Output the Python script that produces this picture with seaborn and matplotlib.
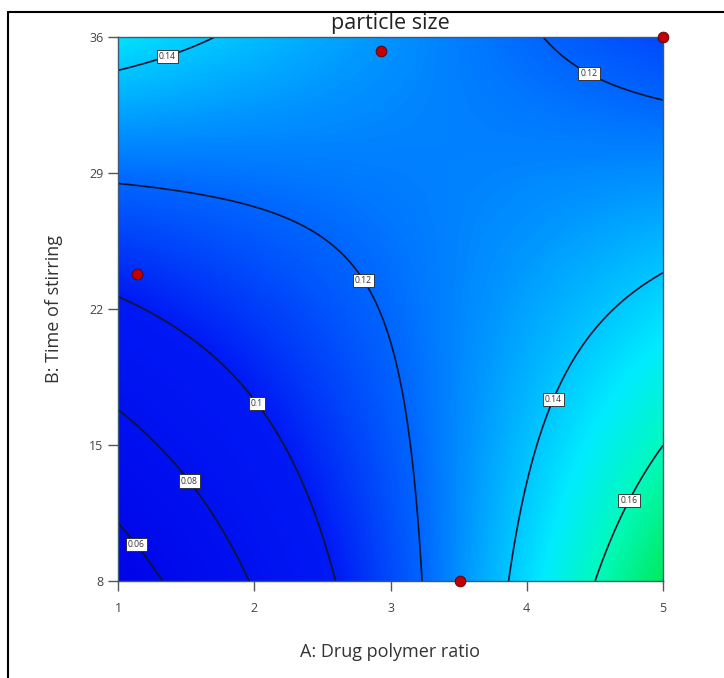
import numpy as np
import pandas as pd
import matplotlib
matplotlib.use("Agg")
import matplotlib.pyplot as plt
from matplotlib.colors import LinearSegmentedColormap
from matplotlib.lines import Line2D
import seaborn as sns

# ---- data ----
title = "particle size"
x_label = "A: Drug polymer ratio"
y_label = "B: Time of stirring"
x_ticks = [1, 2, 3, 4, 5]
y_ticks = [8, 15, 22, 29, 36]
# fitted response-surface coefficients (coded units: a=(A-3)/2, b=(B-22)/14)
coef_names = ["intercept", "A", "B", "AB"]
coef_values = [0.121, 0.0232, 0.0083, -0.0398]
contour_levels = [0.06, 0.08, 0.10, 0.12, 0.14, 0.16]
# design points
design_A = [2.93, 5.0, 1.14, 3.51]
design_B = [35.3, 36.0, 23.8, 8.0]

sns.set_style("white")
plt.rcParams['font.family'] = ['Open Sans', 'DejaVu Sans']

fig = plt.figure(figsize=(7.24, 6.78), dpi=100)
ax = fig.add_axes([118/724, 1-581/678, (663-118)/724, (581-37)/678])

A = np.linspace(1, 5, 300)
B = np.linspace(8, 36, 300)
AA, BB = np.meshgrid(A, B)
a = (AA - 3) / 2
b = (BB - 22) / 14
c = dict(zip(coef_names, coef_values))
Z = c["intercept"] + c["A"]*a + c["B"]*b + c["AB"]*a*b

nodes = [(0.04, (0, 0, 230)), (0.10, (0, 25, 245)), (0.12, (0, 100, 255)),
         (0.135, (0, 175, 255)), (0.148, (0, 235, 255)), (0.16, (0, 250, 190)),
         (0.18, (0, 230, 70))]
vmin, vmax = nodes[0][0], nodes[-1][0]
cmap = LinearSegmentedColormap.from_list(
    "de", [((v - vmin)/(vmax - vmin), tuple(ch/255 for ch in col)) for v, col in nodes])

ax.imshow(Z, extent=[1, 5, 8, 36], origin="lower", aspect="auto",
          cmap=cmap, vmin=vmin, vmax=vmax, interpolation="bilinear", zorder=0)
cs = ax.contour(AA, BB, Z, levels=contour_levels, colors="#08142e", linewidths=1.2, zorder=2)

label_pos = [(1.345, 35.4), (4.46, 34.15), (2.85, 23.7), (2.064, 17.36),
             (1.55, 13.3), (1.16, 10.0), (4.21, 17.3), (4.74, 12.17)]
texts = ax.clabel(cs, inline=False, fontsize=6.2, fmt=lambda v: f"{v:g}",
                  manual=label_pos, colors="#333333", zorder=4)
for t in texts:
    t.set_rotation(0)
    t.set_bbox(dict(boxstyle="square,pad=0.25", fc="white", ec="#222222", lw=0.6))
    t.set_zorder(4)

df = pd.DataFrame({"A": design_A, "B": design_B})
sns.scatterplot(data=df, x="A", y="B", ax=ax, color="#c00000", edgecolor="#5a0000",
                s=60, linewidth=0.6, zorder=5, clip_on=False)

ax.set_xlim(1, 5)
ax.set_ylim(8, 36)
ax.set_xticks(x_ticks)
ax.set_yticks(y_ticks)
ax.tick_params(direction="out", length=7, width=1, colors="#555555",
               labelsize=9, labelcolor="#444444", bottom=True, left=True)
ax.tick_params(axis="x", pad=8)
for s in ax.spines.values():
    s.set_color("#3a5a7a")
    s.set_linewidth(1.0)
ax.set_xlabel(x_label, fontsize=13, color="#333333", labelpad=20)
ax.set_ylabel(y_label, fontsize=13, color="#333333", labelpad=19)
ax.set_title(title, fontsize=15.5, color="#222222", pad=6)

# outer frame of the screenshot
fig.add_artist(Line2D([8/724, 1], [1-12/678, 1-12/678], color="black", lw=1.5, transform=fig.transFigure))
fig.add_artist(Line2D([8/724, 8/724], [0, 1-12/678], color="black", lw=1.5, transform=fig.transFigure))

fig.savefig("out.png", dpi=100)
